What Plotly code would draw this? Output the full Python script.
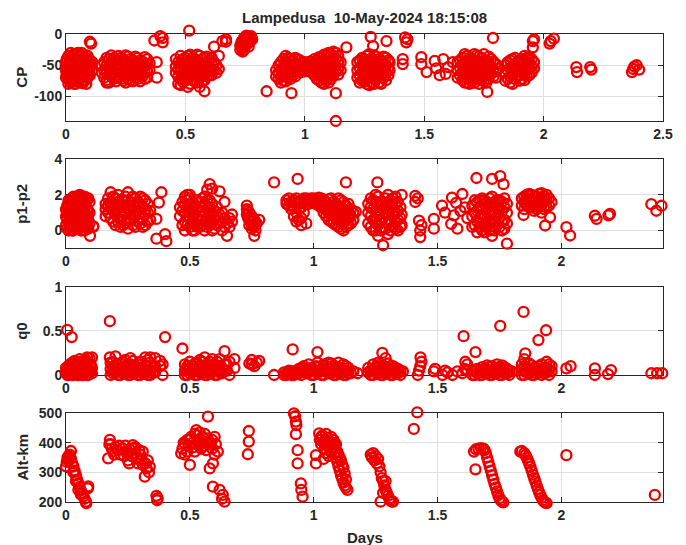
import plotly.graph_objects as go

TITLE = "Lampedusa  10-May-2024 18:15:08"

# (day, [values]) groups
cp_data = [
    (0.003, [-52, -40, -65]), (0.01, [-35, -48, -60, -72, -80]), (0.02, [-30, -45, -55, -68, -78]),
    (0.03, [-33, -50, -62, -75]), (0.04, [-38, -47, -58, -70, -80]), (0.05, [-30, -42, -55, -66, -76]),
    (0.06, [-36, -50, -61, -72]), (0.07, [-32, -45, -57, -69, -79]), (0.08, [-40, -52, -64, -74]),
    (0.09, [-35, -48, -60, -70]), (0.10, [-42, -55, -66, -12]), (0.105, [-50, -15]),
    (0.0, [-45, -58, -70]), (0.015, [-42, -53, -65, -75]), (0.025, [-38, -50, -62, -72]),
    (0.035, [-40, -56, -68, -80]), (0.045, [-33, -52, -64, -75]), (0.055, [-36, -48, -60, -72]),
    (0.065, [-30, -42, -55, -67, -78]), (0.075, [-38, -51, -63, -74]), (0.085, [-34, -46, -58, -70, -80]),
    (0.095, [-40, -53, -65]), (0.11, [-45, -58]),
    (0.16, [-45, -58, -70]), (0.18, [-40, -52, -65, -78]), (0.20, [-38, -50, -62, -72]),
    (0.22, [-35, -47, -58, -70]), (0.24, [-40, -53, -65, -75]), (0.26, [-36, -48, -60, -72]),
    (0.28, [-42, -55, -66, -76]), (0.30, [-38, -50, -62, -72]), (0.32, [-44, -56, -68]),
    (0.34, [-40, -48, -60, -70]),
    (0.15, [-50, -62]), (0.17, [-38, -50, -62, -74, -78]), (0.19, [-34, -45, -57, -68]),
    (0.21, [-42, -55, -66, -76]), (0.23, [-38, -50, -62, -72]), (0.25, [-34, -45, -57, -68, -78]),
    (0.27, [-40, -52, -64, -74]), (0.29, [-36, -47, -58, -70]), (0.31, [-42, -55, -66, -76]),
    (0.33, [-37, -50, -62, -72]), (0.35, [-47, -58]),
    (0.37, [-10]), (0.38, [-45, -70]), (0.395, [-3]), (0.405, [-13, -6]),
    (0.46, [-40, -52, -62]), (0.48, [-35, -48, -60, -72, -82]), (0.50, [-38, -50, -62, -75]),
    (0.516, [6]), (0.52, [-33, -45, -57, -68, -80]), (0.54, [-40, -52, -64, -76]),
    (0.56, [-35, -47, -58, -70, -85]), (0.58, [-38, -50, -62, -74, -92]), (0.60, [-42, -55, -66]),
    (0.62, [-45, -57, -20]), (0.64, [-35, -56]), (0.655, [-11]), (0.67, [-8, -12]), (0.61, [-66]),
    (0.47, [-45, -57, -68, -80]), (0.49, [-40, -53, -65, -77]), (0.51, [-35, -45, -57, -68, -85]),
    (0.53, [-38, -50, -62, -74]), (0.55, [-33, -44, -55, -66, -78]), (0.57, [-40, -52, -64, -76]),
    (0.59, [-36, -46, -57, -68]), (0.61, [-38, -48, -60]), (0.63, [-50, -62]),
    (0.73, [-18, -25]), (0.74, [-10, -15, -22, -28]), (0.75, [-5, -12, -20]), (0.76, [-3, -8, -15]),
    (0.77, [-5, -12]), (0.78, [-8]),
    (0.735, [-12, -20]), (0.745, [-6, -18, -25]), (0.755, [-2, -9, -16]), (0.765, [-5, -12, -20]),
    (0.775, [-3, -9]),
    (0.84, [-92]), (0.944, [-95]),
    (0.89, [-50, -62, -72]), (0.91, [-40, -52, -65, -75]), (0.93, [-38, -48, -60, -70]),
    (0.95, [-42, -55, -66]), (0.97, [-40, -50, -60]), (0.99, [-45, -55]), (1.01, [-48, -58]),
    (1.03, [-45, -55, -62]), (1.05, [-42, -52, -62, -72]), (1.07, [-38, -48, -58, -68, -78]),
    (1.09, [-35, -45, -55, -65, -75]), (1.11, [-32, -42, -52, -62, -72]), (1.13, [-30, -40, -50, -60, -95, -140]),
    (1.15, [-45, -58]), (1.174, [-21]),
    (0.88, [-58, -68]), (0.90, [-45, -57, -69, -78]), (0.92, [-35, -45, -56, -67, -76]),
    (0.94, [-40, -50, -62, -72]), (0.96, [-38, -47, -58, -68]), (0.98, [-42, -52, -62]),
    (1.00, [-45, -54, -60]), (1.02, [-44, -52, -60]), (1.04, [-40, -50, -58, -66]),
    (1.06, [-37, -46, -56, -66, -75]), (1.08, [-33, -43, -52, -62, -72, -80]),
    (1.10, [-30, -38, -48, -58, -68, -78]), (1.12, [-28, -36, -46, -56, -66]), (1.14, [-35, -45, -55, -65]),
    (1.22, [-45, -58, -70]), (1.24, [-38, -50, -62, -75]), (1.26, [-35, -48, -60, -72, -80]),
    (1.28, [-40, -52, -65, -78]), (1.30, [-36, -48, -60, -72]), (1.32, [-42, -55, -66, -80]),
    (1.34, [-38, -50, -62, -74]), (1.355, [-45, -58]),
    (1.23, [-42, -54, -66, -78]), (1.25, [-40, -52, -64, -76]), (1.27, [-32, -44, -56, -68, -82]),
    (1.29, [-34, -46, -58, -70, -80]), (1.31, [-40, -54, -66, -78]), (1.33, [-36, -48, -60, -70]),
    (1.35, [-42, -54, -66]),
    (1.276, [-4]), (1.286, [-19]), (1.342, [-11]),
    (1.42, [-5]), (1.425, [-13]), (1.43, [-8]), (1.41, [-40, -48]),
    (1.488, [-37, -48]), (1.51, [-61]), (1.544, [-43]), (1.55, [-55]), (1.565, [-66]), (1.58, [-40]),
    (1.59, [-64]), (1.60, [-53]), (1.62, [-45]),
    (1.64, [-45, -58, -70]), (1.66, [-38, -50, -62, -74]), (1.68, [-35, -47, -58, -70, -78]),
    (1.70, [-40, -52, -64, -76]), (1.72, [-34, -46, -58, -70]), (1.74, [-38, -50, -62, -74]),
    (1.76, [-42, -54, -66, -78]), (1.78, [-40, -52, -64]), (1.80, [-48, -60, -70]),
    (1.65, [-42, -54, -66]), (1.67, [-32, -44, -56, -68, -78]), (1.69, [-38, -50, -62, -74, -80]),
    (1.71, [-32, -44, -56, -68, -78]), (1.73, [-36, -48, -60, -72, -80]), (1.75, [-32, -44, -56, -68, -76]),
    (1.77, [-36, -48, -60, -72]), (1.79, [-44, -56, -68]), (1.81, [-55]),
    (1.788, [-6]), (1.764, [-93]),
    (1.85, [-45, -58, -72]), (1.87, [-40, -52, -65, -80]), (1.89, [-45, -55, -68]),
    (1.91, [-40, -50, -62, -72]), (1.93, [-38, -48, -58, -68]), (1.95, [-40, -52, -62]),
    (1.84, [-50, -62, -75]), (1.86, [-42, -55, -68, -78]), (1.88, [-38, -50, -60, -72]),
    (1.90, [-42, -56, -66, -75]), (1.92, [-35, -45, -55, -65, -74]), (1.94, [-36, -46, -56, -66]),
    (1.96, [-45, -55]),
    (1.955, [-11, -21]), (1.96, [-8]), (1.935, [-40]),
    (2.025, [-15]), (2.03, [-11]), (2.043, [-7]),
    (2.137, [-53]), (2.14, [-61]), (2.195, [-53]), (2.20, [-57]),
    (2.37, [-61]), (2.375, [-56]), (2.38, [-52]), (2.39, [-50]), (2.40, [-57]),
]

pp_data = [
    (0.005, [0.1, 0.6, 1.0, 1.4]), (0.015, [0.3, 0.8, 1.2, 1.6]), (0.025, [0.0, 0.5, 1.0, 1.5, 1.8]),
    (0.035, [0.2, 0.7, 1.2, 1.7]), (0.045, [0.4, 0.9, 1.4, 1.9]), (0.055, [0.1, 0.6, 1.1, 1.6, 2.0]),
    (0.065, [0.3, 0.8, 1.3, 1.8]), (0.075, [0.0, 0.5, 1.0, 1.5, 1.9]), (0.085, [0.2, 0.7, 1.2, 1.7]),
    (0.095, [0.4, 1.0, 1.6]), (0.097, [-0.3]), (0.11, [0.25, 0.2]),
    (0.0, [0.3, 0.8, 1.2]), (0.01, [0.0, 0.45, 0.9, 1.35, 1.7]), (0.02, [0.2, 0.7, 1.2, 1.6]),
    (0.03, [0.0, 0.4, 0.95, 1.45, 1.9]), (0.04, [0.1, 0.6, 1.1, 1.6]), (0.05, [0.3, 0.8, 1.3, 1.8]),
    (0.06, [0.0, 0.5, 1.0, 1.5, 1.95]), (0.07, [0.2, 0.7, 1.2, 1.7]), (0.08, [0.4, 0.9, 1.4, 1.85]),
    (0.09, [0.1, 0.6, 1.1, 1.8]),
    (0.16, [0.8, 1.2, 1.5]), (0.18, [0.7, 1.3, 1.6, 2.15]), (0.20, [0.3, 0.9, 1.4, 1.8]),
    (0.22, [0.2, 0.6, 1.1, 1.5]), (0.24, [0.4, 1.0, 1.4, 1.9]), (0.25, [2.15, 0.1]),
    (0.26, [0.6, 1.2, 1.6]), (0.28, [0.2, 0.8, 1.3, 1.8]), (0.30, [0.4, 1.0, 1.5, 1.9]),
    (0.32, [0.3, 0.9, 1.2, 1.7]), (0.34, [0.6, 1.1]),
    (0.17, [1.0, 1.4, 1.8]), (0.19, [0.5, 1.1, 1.5, 1.9]), (0.21, [0.5, 1.2, 1.6, 2.0]),
    (0.23, [0.3, 0.8, 1.3, 1.7]), (0.25, [0.6, 1.2, 1.7]), (0.27, [0.3, 0.9, 1.4, 1.9]),
    (0.29, [0.5, 1.1, 1.6]), (0.31, [0.2, 0.7, 1.3, 1.8]), (0.33, [0.5, 1.0, 1.5]),
    (0.385, [2.15]), (0.375, [1.57]), (0.365, [0.65, -0.46]), (0.40, [-0.2]), (0.405, [-0.6]),
    (0.46, [0.8, 1.3]), (0.48, [0.0, 0.5, 1.0, 1.5, 1.9]), (0.50, [0.2, 0.7, 1.2, 1.8, 2.0]),
    (0.52, [0.0, 0.4, 0.9, 1.4]), (0.54, [0.2, 0.6, 1.1, 1.6]), (0.56, [0.0, 0.5, 1.0, 1.5, 1.9]),
    (0.58, [0.3, 0.8, 1.3, 1.7, 2.6]), (0.59, [2.35]), (0.60, [0.1, 0.6, 1.1]),
    (0.62, [0.4, 0.9, 2.2]), (0.64, [0.2, 0.7, 1.6]), (0.65, [-0.3, 0.4]), (0.67, [0.5, 0.9]),
    (0.47, [0.3, 1.1, 1.6]), (0.49, [0.3, 0.8, 1.3, 1.7, 2.0]), (0.51, [0.0, 0.5, 1.0, 1.5]),
    (0.53, [0.2, 0.7, 1.2, 1.7]), (0.55, [0.3, 0.8, 1.3, 1.8]), (0.57, [0.2, 0.7, 1.2, 1.7, 2.3]),
    (0.59, [0.0, 0.5, 1.0, 1.5]), (0.61, [0.3, 0.8, 1.3]), (0.63, [0.0, 0.5, 1.0]), (0.66, [0.2, 0.7]),
    (0.73, [0.9, 1.2, 1.4]), (0.74, [0.3, 0.6, 1.0]), (0.75, [0.1, 0.5, 0.8]), (0.76, [-0.3, 0.2, 0.6]),
    (0.77, [0.4]), (0.78, [0.6]),
    (0.735, [0.7, 1.1]), (0.745, [0.5, 0.8]), (0.755, [0.3, 0.65]), (0.765, [0.0, 0.4]),
    (0.84, [2.7]), (0.935, [2.9]),
    (0.89, [1.5, 1.7]), (0.91, [1.2, 1.6]), (0.93, [0.5, 1.0, 1.5, 1.8]), (0.95, [0.3, 0.7, 1.3, 1.7]),
    (0.97, [0.4, 1.5, 1.8]), (0.99, [1.6, 1.8]), (1.01, [1.5, 1.7]), (1.03, [1.3, 1.6, 1.8]),
    (1.05, [0.8, 1.2, 1.6]), (1.07, [0.5, 0.9, 1.4, 1.8]), (1.09, [0.3, 0.7, 1.1, 1.5]),
    (1.11, [0.1, 0.5, 0.9, 1.3, 1.7]), (1.13, [0.2, 0.6, 1.0, 1.4, 2.7]), (1.15, [0.4, 0.8, 1.2]),
    (1.17, [1.05]),
    (0.90, [1.4, 1.8]), (0.92, [0.8, 1.3, 1.7]), (0.94, [0.6, 1.2, 1.6]), (0.96, [1.0, 1.6, 1.8]),
    (0.98, [1.5, 1.75]), (1.00, [1.55, 1.8]), (1.02, [1.4, 1.65, 1.85]), (1.04, [1.0, 1.45, 1.75]),
    (1.06, [0.6, 1.0, 1.4, 1.75]), (1.08, [0.4, 0.8, 1.2, 1.6]), (1.10, [0.2, 0.6, 1.0, 1.4, 1.8]),
    (1.12, [0.0, 0.4, 0.8, 1.2, 1.6]), (1.14, [0.3, 0.7, 1.1, 1.5]), (1.16, [0.6, 1.0]),
    (1.257, [2.7]),
    (1.22, [0.4, 1.0, 1.5]), (1.24, [0.0, 0.6, 1.2, 1.7]), (1.26, [-0.3, 0.3, 0.9, 1.4, 1.9]),
    (1.28, [0.1, 0.7, 1.2, 1.6, -0.83]), (1.30, [-0.2, 0.4, 1.0, 1.5, 2.0]), (1.32, [0.2, 0.8, 1.3, 1.8]),
    (1.34, [0.0, 0.6, 1.1, 1.6]), (1.355, [0.3, 0.9, 2.0]),
    (1.23, [0.2, 0.8, 1.3, 1.8]), (1.25, [0.0, 0.5, 1.1, 1.6, 2.0]), (1.27, [0.0, 0.6, 1.1, 1.6]),
    (1.29, [0.1, 0.5, 0.9, 1.4, 1.8]), (1.31, [0.0, 0.6, 1.2, 1.7]), (1.33, [0.1, 0.5, 1.0, 1.5, 1.9]),
    (1.35, [0.2, 0.7, 1.3]),
    (1.41, [1.95, 1.6]), (1.42, [1.8]), (1.425, [0.55]), (1.43, [-0.37, 0.0]), (1.435, [0.3]),
    (1.485, [0.65, 0.1]), (1.518, [1.4]), (1.53, [1.0]), (1.555, [0.37]), (1.558, [1.85]),
    (1.566, [0.85]), (1.575, [1.55]), (1.58, [0.1]), (1.592, [1.1]), (1.60, [2.05]), (1.61, [1.3]), (1.62, [0.7]),
    (1.64, [0.2, 0.8, 1.4]), (1.66, [-0.1, 0.5, 1.1, 1.6]), (1.68, [0.0, 0.4, 0.9, 1.3, 1.8]),
    (1.70, [0.2, 0.7, 1.2, 1.6]), (1.72, [-0.3, 0.1, 0.6, 1.0, 1.5, 1.9]), (1.74, [0.3, 0.8, 1.3, 1.7]),
    (1.76, [0.0, 0.5, 1.1, 1.6]), (1.78, [0.4, 1.0, 1.5, -0.74]),
    (1.65, [0.3, 1.0, 1.7]), (1.67, [0.2, 0.7, 1.3, 1.7]), (1.69, [-0.1, 0.3, 0.8, 1.5, 1.7]),
    (1.71, [0.0, 0.4, 0.9, 1.4, 1.8]), (1.73, [0.0, 0.5, 1.0, 1.6]), (1.75, [0.2, 0.7, 1.2, 1.7]),
    (1.77, [0.1, 0.6, 1.3, 1.8]),
    (1.657, [2.95]), (1.72, [2.9]), (1.753, [3.05]), (1.766, [2.6]),
    (1.85, [1.2, 1.6, 1.9]), (1.87, [1.3, 1.7, 2.05]), (1.89, [1.1, 1.5, 1.9]), (1.91, [1.3, 1.7, 2.05]),
    (1.93, [1.2, 1.6, 1.95]), (1.95, [1.4, 1.8]), (1.96, [1.6]),
    (1.84, [1.4, 1.8]), (1.86, [1.4, 1.8, 2.0]), (1.88, [1.3, 1.7, 2.0]), (1.90, [1.2, 1.5, 1.9]),
    (1.92, [1.4, 1.8, 2.1]), (1.94, [1.3, 1.7, 2.0]),
    (1.847, [0.87]), (1.934, [0.28]), (1.954, [0.74]), (1.92, [1.0]),
    (2.02, [0.19]), (2.035, [-0.28]), (2.135, [0.83]), (2.142, [0.65]), (2.19, [0.85]), (2.196, [0.93]),
    (2.363, [1.48]), (2.383, [1.11]), (2.404, [1.39]),
]

q0_data = [
    (0.005, [0.0, 0.05, 0.51]), (0.015, [0.02, 0.08, 0.12]), (0.023, [0.43]), (0.025, [0.0, 0.06, 0.14]),
    (0.035, [0.03, 0.1, 0.16]), (0.045, [0.0, 0.07, 0.13]), (0.055, [0.02, 0.09, 0.18]),
    (0.065, [0.0, 0.05, 0.12]), (0.075, [0.03, 0.1, 0.15]), (0.085, [0.0, 0.06, 0.13, 0.2]),
    (0.095, [0.04, 0.11, 0.19]), (0.105, [0.02, 0.08, 0.2]),
    (0.0, [0.03, 0.08]), (0.01, [0.0, 0.05, 0.1]), (0.02, [0.03, 0.09]), (0.03, [0.0, 0.05, 0.12]),
    (0.04, [0.02, 0.09]), (0.05, [0.0, 0.05, 0.13]), (0.06, [0.03, 0.08, 0.15]), (0.07, [0.0, 0.06, 0.12]),
    (0.08, [0.03, 0.09, 0.17]), (0.09, [0.0, 0.07]), (0.10, [0.04, 0.12]),
    (0.177, [0.61, 0.2]), (0.18, [0.0, 0.07, 0.14]), (0.20, [0.03, 0.1, 0.21]), (0.22, [0.0, 0.06, 0.13]),
    (0.24, [0.02, 0.09, 0.17]), (0.26, [0.0, 0.05, 0.12, 0.19]), (0.28, [0.03, 0.1]),
    (0.30, [0.0, 0.07, 0.15]), (0.32, [0.02, 0.11, 0.2]), (0.34, [0.0, 0.06, 0.14, 0.2]),
    (0.36, [0.03, 0.1, 0.19]), (0.38, [0.1, 0.16]), (0.39, [0.0, 0.12]), (0.40, [0.43]), (0.47, [0.3]),
    (0.19, [0.02, 0.08, 0.15]), (0.21, [0.0, 0.06, 0.12]), (0.23, [0.02, 0.09, 0.15]), (0.25, [0.0, 0.06, 0.12]),
    (0.27, [0.02, 0.07, 0.16]), (0.29, [0.0, 0.05, 0.12]), (0.31, [0.02, 0.09]), (0.33, [0.0, 0.05, 0.17]),
    (0.35, [0.02, 0.08]),
    (0.48, [0.0, 0.05, 0.12]), (0.50, [0.02, 0.08, 0.15]), (0.52, [0.0, 0.06, 0.13]),
    (0.54, [0.03, 0.1, 0.17]), (0.56, [0.0, 0.07, 0.2]), (0.58, [0.02, 0.09, 0.15]),
    (0.60, [0.0, 0.05, 0.12]), (0.62, [0.03, 0.1, 0.18]), (0.64, [0.27, 0.12, 0.05]),
    (0.66, [0.0, 0.15]), (0.68, [0.08, 0.18]),
    (0.49, [0.0, 0.07, 0.1]), (0.51, [0.03, 0.1]), (0.53, [0.0, 0.05, 0.14]), (0.55, [0.02, 0.08, 0.15]),
    (0.57, [0.0, 0.05, 0.12]), (0.59, [0.03, 0.11, 0.18]), (0.61, [0.0, 0.07, 0.15]), (0.63, [0.02, 0.08]),
    (0.65, [0.05, 0.12]),
    (0.74, [0.13]), (0.75, [0.17, 0.12]), (0.76, [0.1]), (0.77, [0.14]), (0.78, [0.16]),
    (0.84, [0.0]), (0.915, [0.29]),
    (0.88, [0.0, 0.03]), (0.90, [0.01, 0.05]), (0.92, [0.0, 0.04]), (0.94, [0.02, 0.07]),
    (0.96, [0.05, 0.1]), (0.98, [0.03, 0.12]), (1.00, [0.0, 0.06]), (1.015, [0.26, 0.14]),
    (1.02, [0.03, 0.09]), (1.04, [0.0, 0.06, 0.12]), (1.06, [0.02, 0.08, 0.14]), (1.08, [0.0, 0.05, 0.11]),
    (1.10, [0.03, 0.09, 0.14]), (1.12, [0.0, 0.06, 0.12]), (1.14, [0.02, 0.08]), (1.16, [0.04]),
    (0.89, [0.0, 0.02]), (0.91, [0.0, 0.04]), (0.93, [0.01, 0.05]), (0.95, [0.0, 0.04, 0.08]),
    (0.97, [0.02, 0.07]), (0.99, [0.0, 0.08]), (1.01, [0.03, 0.1]), (1.03, [0.0, 0.06]), (1.05, [0.04, 0.1]),
    (1.07, [0.02, 0.08, 0.13]), (1.09, [0.0, 0.06]), (1.11, [0.02, 0.08]), (1.13, [0.0, 0.05, 0.1]),
    (1.15, [0.02]),
    (1.177, [0.02]), (1.277, [0.25]), (1.29, [0.19]),
    (1.22, [0.03, 0.08]), (1.24, [0.0, 0.06, 0.12]), (1.26, [0.02, 0.09, 0.14]), (1.28, [0.0, 0.05, 0.11]),
    (1.30, [0.03, 0.08, 0.13]), (1.32, [0.0, 0.06, 0.1]), (1.34, [0.02, 0.07]), (1.36, [0.04]),
    (1.23, [0.0, 0.05]), (1.25, [0.03, 0.09]), (1.27, [0.0, 0.06, 0.12]), (1.29, [0.02, 0.08]),
    (1.31, [0.0, 0.05, 0.1]), (1.33, [0.02, 0.08]), (1.35, [0.0, 0.05]),
    (1.42, [0.0]), (1.425, [0.05]), (1.43, [0.1]), (1.431, [0.2]), (1.435, [0.15]),
    (1.485, [0.04]), (1.49, [0.07]), (1.52, [0.0]), (1.53, [0.05]), (1.54, [0.03]), (1.56, [0.0]),
    (1.58, [0.04]), (1.60, [0.02]), (1.61, [0.07]), (1.62, [0.05, 0.12]),
    (1.605, [0.44]), (1.653, [0.26]), (1.612, [0.15]),
    (1.64, [0.0, 0.05]), (1.66, [0.02, 0.07]), (1.68, [0.0, 0.04, 0.09]), (1.70, [0.02, 0.06, 0.11]),
    (1.72, [0.0, 0.05, 0.1]), (1.74, [0.03, 0.08, 0.12]), (1.76, [0.0, 0.06, 0.11]), (1.78, [0.02, 0.07]),
    (1.80, [0.04]),
    (1.65, [0.0, 0.04]), (1.67, [0.0, 0.05]), (1.69, [0.02, 0.07]), (1.71, [0.0, 0.04, 0.09]),
    (1.73, [0.02, 0.07]), (1.75, [0.0, 0.04, 0.09]), (1.77, [0.02, 0.09]), (1.79, [0.0, 0.05]),
    (1.753, [0.556]),
    (1.847, [0.714]), (1.854, [0.245]), (1.85, [0.18]), (1.907, [0.395]), (1.938, [0.507]),
    (1.84, [0.0, 0.06, 0.12]), (1.86, [0.03, 0.09]), (1.88, [0.0, 0.05, 0.11]), (1.90, [0.02, 0.08]),
    (1.92, [0.0, 0.05, 0.12]), (1.94, [0.03, 0.08, 0.15]), (1.96, [0.04, 0.1]),
    (1.85, [0.0, 0.04, 0.1]), (1.87, [0.02, 0.07, 0.13]), (1.89, [0.0, 0.08]), (1.91, [0.03, 0.1]),
    (1.93, [0.02, 0.07]), (1.95, [0.0, 0.06, 0.12]),
    (2.02, [0.075]), (2.037, [0.1]), (2.135, [0.075, 0.0]), (2.188, [0.01]), (2.20, [0.056]),
    (2.363, [0.02]), (2.386, [0.02]), (2.407, [0.02]),
]

alt_data = [
    (0.0, [320]), (0.003, [335]), (0.006, [350]), (0.01, [340, 355]), (0.015, [360]), (0.02, [372, 345]),
    (0.025, [330]), (0.03, [320, 300]), (0.035, [305]), (0.04, [290, 270]), (0.045, [275]),
    (0.05, [262, 240]), (0.055, [250]), (0.06, [238, 225]), (0.065, [228]), (0.07, [218]),
    (0.075, [210]), (0.08, [200]), (0.082, [195]), (0.088, [245]), (0.09, [252]),
    (0.17, [347]), (0.177, [410]), (0.18, [395]), (0.185, [380]), (0.19, [370]), (0.20, [385]),
    (0.21, [375]), (0.22, [360]), (0.23, [380]), (0.24, [390]), (0.245, [365]), (0.25, [340]),
    (0.255, [330]), (0.26, [375]), (0.27, [392]), (0.275, [380]), (0.28, [365]), (0.285, [345]),
    (0.29, [330]), (0.295, [375]), (0.30, [360]), (0.305, [345]), (0.31, [370]), (0.318, [285]),
    (0.32, [330]), (0.325, [313]), (0.33, [340]), (0.335, [300]), (0.338, [319]),
    (0.175, [395]), (0.195, [360]), (0.215, [390]), (0.235, [355]), (0.25, [370]), (0.265, [355]),
    (0.28, [385]), (0.30, [340]), (0.31, [325]),
    (0.365, [220]), (0.368, [205]), (0.37, [212]),
    (0.465, [364]), (0.47, [380]), (0.48, [395, 360]), (0.49, [370, 410]), (0.50, [325, 410]),
    (0.51, [400]), (0.515, [385]), (0.52, [370, 430]), (0.526, [443]), (0.53, [425]), (0.535, [410]),
    (0.54, [395]), (0.545, [380]), (0.55, [420]), (0.555, [405]), (0.56, [390]), (0.565, [375]),
    (0.57, [415]), (0.573, [489]), (0.58, [313]), (0.585, [400]), (0.59, [380]), (0.593, [330, 251]),
    (0.60, [420]), (0.605, [395]), (0.613, [370]),
    (0.475, [400]), (0.495, [390]), (0.505, [420]), (0.525, [395]), (0.54, [435]), (0.55, [385]),
    (0.56, [430]), (0.575, [395]), (0.59, [410]), (0.60, [360]),
    (0.62, [240]), (0.63, [210]), (0.633, [223]), (0.64, [200]),
    (0.734, [361]), (0.738, [440, 404]),
    (0.92, [500]), (0.925, [490]), (0.928, [472, 429]), (0.93, [460]), (0.935, [375, 330]),
    (0.948, [262]), (0.95, [240]), (0.955, [217]),
    (1.009, [358, 330]), (1.022, [432]), (1.025, [410]), (1.03, [395]), (1.035, [425]), (1.04, [400, 345]),
    (1.045, [380]), (1.05, [430, 365]), (1.055, [415]), (1.06, [395, 355]), (1.065, [375]), (1.07, [420]),
    (1.075, [400]), (1.08, [385, 410]), (1.085, [365]), (1.09, [350, 395]), (1.095, [335]),
    (1.10, [320, 360]), (1.105, [305]), (1.11, [290, 340]), (1.115, [278]), (1.12, [265, 315]),
    (1.125, [255]), (1.13, [248]), (1.136, [240]),
    (1.03, [420]), (1.045, [410]), (1.055, [390]), (1.065, [405]), (1.075, [380]), (1.085, [395]),
    (1.095, [370]), (1.105, [350]), (1.115, [325]), (1.125, [295]), (1.13, [275]),
    (1.23, [360]), (1.235, [350]), (1.24, [365]), (1.245, [340]), (1.25, [355]), (1.255, [330]),
    (1.26, [345]), (1.265, [320]), (1.27, [300, 200]), (1.275, [280]), (1.28, [270, 230]), (1.285, [255]),
    (1.29, [240, 270]), (1.295, [230]), (1.30, [220]), (1.305, [210]), (1.31, [205]), (1.315, [200]), (1.32, [200]),
    (1.404, [447]), (1.418, [503]), (1.653, [310]),
    (1.647, [370]), (1.655, [378]), (1.665, [380]), (1.675, [382]), (1.685, [380]), (1.69, [375]),
    (1.695, [365]), (1.70, [350]), (1.705, [335]), (1.71, [320]), (1.715, [305]), (1.72, [290]),
    (1.725, [275]), (1.73, [260]), (1.735, [248]), (1.74, [235]), (1.745, [222]), (1.75, [212]),
    (1.755, [205]), (1.76, [200]), (1.765, [198]),
    (1.834, [370]), (1.84, [372]), (1.85, [365]), (1.855, [358]), (1.86, [350]), (1.865, [340]),
    (1.87, [330]), (1.875, [318]), (1.88, [305]), (1.885, [292]), (1.89, [280]), (1.895, [268]),
    (1.90, [255]), (1.905, [243]), (1.91, [232]), (1.915, [222]), (1.92, [213]), (1.925, [205]),
    (1.93, [200]), (1.935, [197]), (1.94, [195]),
    (2.02, [358]), (2.377, [223]),
]

panel_labels = ["CP", "p1-p2", "q0", "Alt-km"]
x_tickvals_top = [0, 0.5, 1, 1.5, 2, 2.5]
x_tickvals = [0, 0.5, 1, 1.5, 2]
y_ticks = [
    ([-100, -50, 0], ["-100", "-50", "0"]),
    ([0, 2, 4], ["0", "2", "4"]),
    ([0, 0.5, 1], ["0", "0.5", "1"]),
    ([200, 300, 400, 500], ["200", "300", "400", "500"]),
]
y_ranges = [[-140, 0], [-1, 4], [0, 1], [200, 500]]
x_ranges = [[0, 2.5], [0, 2.41], [0, 2.41], [0, 2.41]]


def flatten(groups):
    xs, ys = [], []
    for d, vals in groups:
        for v in vals:
            xs.append(d)
            ys.append(v)
    return xs, ys


RED = "#EE0000"
FONT = "Liberation Sans, Arial, sans-serif"
W, H = 686, 545
L, R, T, B = 66, 23, 20, 30
ph = H - T - B
pw = W - L - R
tops = [34.3, 159.3, 286.7, 413.3]
bots = [121, 248.3, 375, 501.7]
EXT = 12  # px of extra room so markers past the axis limits still draw


def frac(py):
    return (H - B - py) / ph


fig = go.Figure()
# empty traces keep the visible (frame/tick) subplots alive
for i in range(4):
    sfx = "" if i == 0 else str(i + 1)
    fig.add_trace(go.Scatter(x=[], y=[], xaxis="x" + sfx, yaxis="y" + sfx,
                             showlegend=False, hoverinfo="skip"))
# marker layer on invisible axes with identical scale but a bit more room
for i, groups in enumerate([cp_data, pp_data, q0_data, alt_data]):
    xs, ys = flatten(groups)
    fig.add_trace(go.Scatter(
        x=xs, y=ys, mode="markers", xaxis="x" + str(5 + i), yaxis="y" + str(5 + i),
        marker=dict(symbol="circle-open", size=10, color=RED, line=dict(width=2.3, color=RED)),
        cliponaxis=False, showlegend=False, hoverinfo="skip"))

tickfont = dict(family=FONT, size=14, color="#262626", weight="bold")
layout = dict(
    width=W, height=H, margin=dict(l=L, r=R, t=T, b=B),
    paper_bgcolor="white", plot_bgcolor="rgba(0,0,0,0)",
    font=dict(family=FONT, color="#262626"),
    annotations=[],
)
for i in range(4):
    sfx = "" if i == 0 else str(i + 1)
    dom = [frac(bots[i]), frac(tops[i])]
    common = dict(showline=True, linecolor="#262626", linewidth=1, mirror="ticks",
                  ticks="inside", ticklen=5, tickcolor="#262626", showgrid=True,
                  gridcolor="#DFDFDF", gridwidth=1, zeroline=False, tickfont=tickfont)
    layout["xaxis" + sfx] = dict(common, domain=[0, 1], range=x_ranges[i], anchor="y" + sfx,
                                 tickvals=x_tickvals_top if i == 0 else x_tickvals)
    layout["yaxis" + sfx] = dict(common, domain=dom, range=y_ranges[i], anchor="x" + sfx,
                                 tickvals=y_ticks[i][0], ticktext=y_ticks[i][1])
    r0, r1 = y_ranges[i]
    upp = (r1 - r0) / (bots[i] - tops[i])
    hidden = dict(visible=False, showgrid=False, zeroline=False, fixedrange=True)
    layout["xaxis" + str(5 + i)] = dict(hidden, domain=[0, 1], range=x_ranges[i], anchor="y" + str(5 + i))
    layout["yaxis" + str(5 + i)] = dict(
        hidden, domain=[frac(bots[i] + EXT), frac(tops[i] - EXT)],
        range=[r0 - EXT * upp, r1 + EXT * upp], anchor="x" + str(5 + i))
    layout["annotations"].append(dict(
        text="<b>" + panel_labels[i] + "</b>", xref="paper", yref="paper",
        x=(22 - L) / pw, y=sum(dom) / 2, textangle=-90, showarrow=False,
        xanchor="center", yanchor="middle", font=dict(family=FONT, size=15, color="#262626")))

layout["annotations"].append(dict(
    text="<b>Days</b>", xref="paper", yref="paper", x=0.5, y=frac(537),
    showarrow=False, xanchor="center", yanchor="middle", font=dict(family=FONT, size=15, color="#262626")))
layout["annotations"].append(dict(
    text="<b>" + TITLE + "</b>", xref="paper", yref="paper", x=0.5, y=frac(18),
    showarrow=False, xanchor="center", yanchor="middle", font=dict(family=FONT, size=15, color="#262626")))

fig.update_layout(**layout)
fig.write_html("out.html")
